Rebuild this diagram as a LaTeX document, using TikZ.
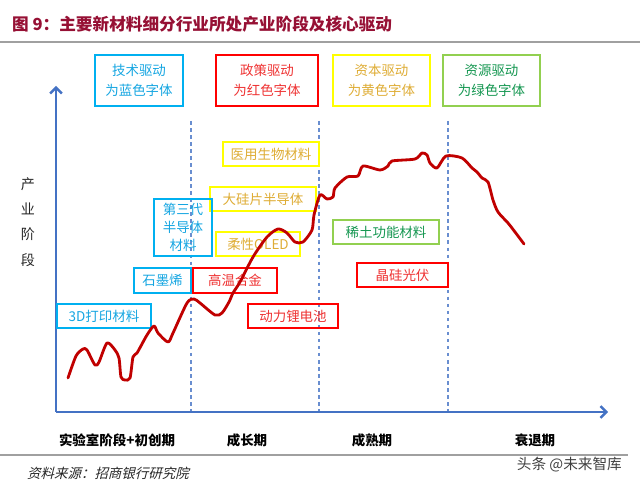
\documentclass[tikz,border=0pt]{standalone}
\usepackage{fontspec}
\setmainfont{Noto Sans CJK SC}
\newfontfamily\srcfont[FakeSlant=0.25]{Noto Sans CJK SC}
\usepackage{tikz}
\usetikzlibrary{arrows.meta}
\definecolor{TitleRed}{RGB}{150,16,52}
\definecolor{RuleGray}{RGB}{160,160,160}
\definecolor{AxisBlue}{RGB}{68,114,196}
\definecolor{CurveRed}{RGB}{192,0,0}
\definecolor{BlueLine}{RGB}{0,176,240}
\definecolor{BlueText}{RGB}{20,165,225}
\definecolor{RedLine} {RGB}{255,0,0}
\definecolor{RedText} {RGB}{238,50,50}
\definecolor{YelLine} {RGB}{255,255,0}
\definecolor{YelText} {RGB}{222,172,52}
\definecolor{GrnLine} {RGB}{146,208,80}
\definecolor{GrnText} {RGB}{20,150,80}
\tikzset{
  nd_box/.style 2 args={rectangle,draw=#1,text=#2,line width=1pt,inner sep=0pt,align=center,font=\fontsize{11.5}{14}\selectfont},
  nd_sz/.style 2 args={minimum width=#1*0.03cm,minimum height=#2*0.03cm},
  nd_stage/.style={font=\fontsize{11.5}{14}\selectfont\bfseries,text=black},
  ax/.style={AxisBlue,line width=2.4pt,-{Straight Barb[length=5pt,width=10pt,line width=2pt]}},
  stagesep/.style={AxisBlue!80,line width=1pt,dash pattern=on 3pt off 3pt},
  rule/.style={RuleGray,line width=1pt},
}
\begin{document}
\begin{tikzpicture}[x=0.03cm,y=-0.03cm]
\useasboundingbox (0,0) rectangle (640,487);
\def\dA{191}\def\dB{319}\def\dC{448}
% title
\node[anchor=west,text=TitleRed,font=\fontsize{14.2}{17}\selectfont\bfseries] at (8,24)(title){图 9：主要新材料细分行业所处产业阶段及核心驱动};
\draw[rule](0,42)--(640,42);
% legend
\node[nd_box={BlueLine}{BlueText},nd_sz={88}{51},font=\fontsize{11.5}{17}\selectfont] at (139,80.5)(lgdTech){技术驱动\\为蓝色字体};
\node[nd_box={RedLine}{RedText},nd_sz={102}{51},font=\fontsize{11.5}{17}\selectfont] at (267,80.5)(lgdPolicy){政策驱动\\为红色字体};
\node[nd_box={YelLine}{YelText},nd_sz={97}{51},font=\fontsize{11.5}{17}\selectfont] at (381.5,80.5)(lgdCap){资本驱动\\为黄色字体};
\node[nd_box={GrnLine}{GrnText},nd_sz={97}{51},font=\fontsize{11.5}{17}\selectfont] at (491.5,80.5)(lgdRes){资源驱动\\为绿色字体};
% axes
\coordinate (O) at (56,412);
\coordinate (Ytop) at (56,86);
\coordinate (Xend) at (608,412);
\draw[ax](O)--(Ytop);
\draw[ax](O)--(Xend);
\node[font=\fontsize{12}{21.5}\selectfont,align=center,text=black!85] at (28,222)(ylab){产\\业\\阶\\段};
% stage separators
\foreach \x/\n in {\dA/sA,\dB/sB,\dC/sC}{
  \coordinate (\n top) at (\x,121);
  \coordinate (\n bot) at (\x,411);
  \draw[stagesep](\n top)--(\n bot);}
% materials
\node[nd_box={YelLine}{YelText},nd_sz={96}{24}] at (271,154)(bxMed){医用生物材料};
\node[nd_box={YelLine}{YelText},nd_sz={106}{24}] at (263,199)(bxWafer){大硅片半导体};
\node[nd_box={BlueLine}{BlueText},nd_sz={58}{57},font=\fontsize{11.5}{15.5}\selectfont] at (183,227.5)(bxSiC){第三代\\半导体\\材料};
\node[nd_box={YelLine}{YelText},nd_sz={84}{24}] at (258,244)(bxOled){柔性OLED};
\node[nd_box={BlueLine}{BlueText},nd_sz={57}{25}] at (162.5,280.5)(bxGraph){石墨烯};
\node[nd_box={RedLine}{RedText},nd_sz={84}{25}] at (235,280.5)(bxAlloy){高温合金};
\node[nd_box={GrnLine}{GrnText},nd_sz={106}{24}] at (386,232)(bxRare){稀土功能材料};
\node[nd_box={RedLine}{RedText},nd_sz={91}{24}] at (402.5,275)(bxPV){晶硅光伏};
\node[nd_box={BlueLine}{BlueText},nd_sz={94}{24}] at (104,316)(bx3D){3D打印材料};
\node[nd_box={RedLine}{RedText},nd_sz={90}{24}] at (293,316)(bxLi){动力锂电池};
% industry curve
\draw[CurveRed,line width=2.4pt,line join=round,line cap=round] plot[smooth,tension=0.45] coordinates {
  (68,378)(76,356)(83,349)(87,350)(95,365)(99,362)(107,343)(115,350)(119,358)
  (121,377)(125,380)(130,378)(133,357)(137,353)(147,335)(154,326)(158,333)
  (168,342)(173,333)(187,303)(194,299)(200,303)(215,315)(222,313)(229,302)
  (233,293)(240,282)(253,257)(267,237)(278,229)(287,233)(295,242)(303,242)
  (312,230)(314,215)(320,195)(327,199)(333,197)(335,188)(347,177)(358,176)
  (363,166)(380,170)(388,166)(392,161)(415,159)(422,153)(427,155)(430,163)
  (437,168)(446,156)(462,158)(472,168)(477,172)(482,178)(488,182)(493,200)
  (498,212)(508,223)(515,232)(524,244)};
% stages
\node[nd_stage] at (117,440)(stLab){实验室阶段+初创期};
\node[nd_stage] at (247,440)(stGrow){成长期};
\node[nd_stage] at (372,440)(stMat){成熟期};
\node[nd_stage] at (535,440)(stDecl){衰退期};
% footer
\draw[rule](0,455)--(628,455);
\node[anchor=west,font=\fontsize{11.5}{14}\srcfont,text=black!85] at (23,473)(src){资料来源：招商银行研究院};
\node[anchor=east,font=\fontsize{12.5}{15}\selectfont,text=black!75] at (626,465)(wm){头条 @未来智库};
\end{tikzpicture}
\end{document}
